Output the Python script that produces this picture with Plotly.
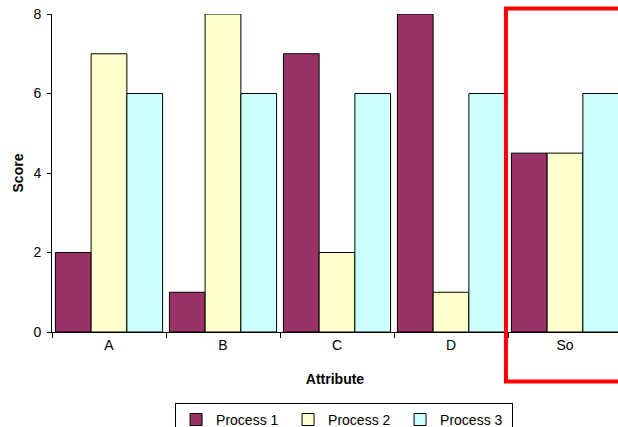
import plotly.graph_objects as go

attributes = ["A", "B", "C", "D", "So"]
process_1 = [2, 1, 7, 8, 4.5]
process_2 = [7, 8, 2, 1, 4.5]
process_3 = [6, 6, 6, 6, 6]
series_names = ["Process 1", "Process 2", "Process 3"]
series_colors = ["#993366", "#FFFFCC", "#CCFFFF"]
y_ticks = [0, 2, 4, 6, 8]

font_family = "Liberation Sans, Arial, sans-serif"

fig = go.Figure()
for name, values, color in zip(series_names, [process_1, process_2, process_3], series_colors):
    fig.add_trace(go.Bar(
        x=attributes, y=values, name=name,
        marker=dict(color=color, line=dict(color="#000000", width=1)),
    ))

fig.update_layout(
    width=618, height=427,
    margin=dict(l=52, r=0, t=14, b=95, autoexpand=False),
    paper_bgcolor="white", plot_bgcolor="white",
    barmode="group", bargap=0.06, bargroupgap=0,
    font=dict(family=font_family, size=14, color="#000000"),
    showlegend=True,
    legend=dict(
        orientation="h", x=0.516, xanchor="center", y=-0.223, yanchor="top",
        bordercolor="#000000", borderwidth=1, bgcolor="white",
        font=dict(size=14), entrywidth=67, entrywidthmode="pixels",
        itemwidth=30,
    ),
    xaxis=dict(
        # last category runs past the right edge of the page
        range=[-0.5, -0.5 + 566 / 114], showline=True, linecolor="#000000", linewidth=1,
        ticks="outside", tickson="boundaries", ticklen=5, tickcolor="#000000",
        showgrid=False, zeroline=False, fixedrange=True,
        title=dict(text="<b>Attribute</b>", standoff=22, font=dict(size=14)),
    ),
    yaxis=dict(
        range=[0, 8], tickvals=y_ticks, showline=True, linecolor="#000000", linewidth=1,
        ticks="outside", ticklen=4, tickcolor="#000000", ticklabelstandoff=3,
        showgrid=False, zeroline=False,
        title=dict(text="<b>Score</b>", standoff=6, font=dict(size=14)),
    ),
)

# Highlight box around the last group
fig.add_shape(
    type="rect", xref="paper", yref="paper",
    x0=0.802, x1=1.05, y0=-0.1557, y1=1.017,
    line=dict(color="#FF0000", width=4), fillcolor="rgba(0,0,0,0)",
)

fig.write_html("out.html")
